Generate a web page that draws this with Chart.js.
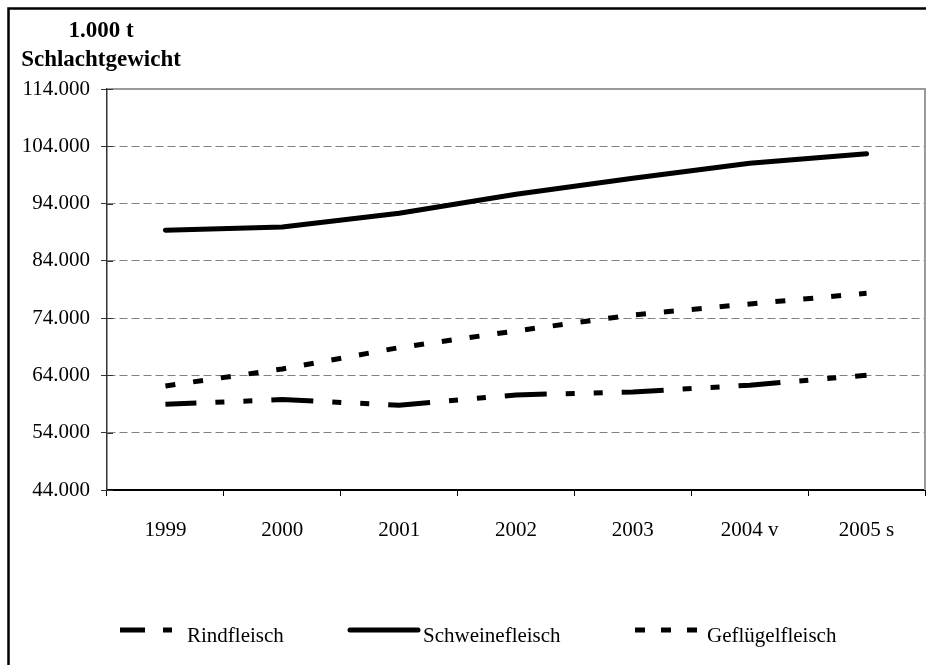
<!DOCTYPE html>
<html>
<head>
<meta charset="utf-8">
<script src="https://cdn.jsdelivr.net/npm/chart.js@4.4.1/dist/chart.umd.min.js"></script>
<style>
  html, body { margin: 0; padding: 0; background: #ffffff; }
  #wrap { width: 926px; height: 665px; }
</style>
</head>
<body>
<div id="wrap"><canvas id="c" width="926" height="665"></canvas></div>
<script>
// Meat production (slaughter weight, in 1,000 t)
const years = ['1999', '2000', '2001', '2002', '2003', '2004 v', '2005 s'];
const rindfleisch      = [58970, 59780, 58800, 60600, 61120, 62290, 64030];
const schweinefleisch  = [89340, 89920, 92310, 95620, 98420, 101030, 102710];
const gefluegelfleisch = [62170, 65130, 68860, 71770, 74560, 76480, 78340];
const yTickValues = [44000, 54000, 64000, 74000, 84000, 94000, 104000, 114000];
const unitLines = ['1.000 t', 'Schlachtgewicht'];
const seriesNames = ['Rindfleisch', 'Schweinefleisch', 'Geflügelfleisch'];

const SERIF = '"Liberation Serif", "Times New Roman", serif';

function formatThousands(v) {
  return Math.round(v).toString().replace(/\B(?=(\d{3})+(?!\d))/g, '.');
}

// White page with the outer frame (left and top edges)
const framePlugin = {
  id: 'frame',
  beforeDraw(chart) {
    const ctx = chart.ctx;
    ctx.save();
    ctx.fillStyle = '#ffffff';
    ctx.fillRect(0, 0, chart.width, chart.height);
    ctx.strokeStyle = '#000000';
    ctx.lineWidth = 2.5;
    ctx.beginPath();
    ctx.moveTo(8.5, chart.height + 5);
    ctx.lineTo(8.5, 8.5);
    ctx.lineTo(chart.width + 5, 8.5);
    ctx.stroke();
    ctx.restore();
  },
  afterDraw(chart) {
    const ctx = chart.ctx;
    const a = chart.chartArea;
    const yScale = chart.scales.y;
    ctx.save();
    // plot area border, top and right
    ctx.strokeStyle = '#9a9a9a';
    ctx.lineWidth = 2;
    ctx.beginPath();
    ctx.moveTo(a.left, a.top);
    ctx.lineTo(a.right, a.top);
    ctx.lineTo(a.right, a.bottom);
    ctx.stroke();
    // y tick marks cross the axis: inner half
    ctx.strokeStyle = '#333333';
    ctx.lineWidth = 1;
    yScale.ticks.forEach(t => {
      const y = Math.round(yScale.getPixelForValue(t.value)) + 0.5;
      ctx.beginPath();
      ctx.moveTo(a.left, y);
      ctx.lineTo(a.left + 6, y);
      ctx.stroke();
    });
    // unit title above the value axis
    ctx.fillStyle = '#000000';
    ctx.font = 'bold 23px ' + SERIF;
    ctx.textAlign = 'center';
    ctx.textBaseline = 'alphabetic';
    ctx.fillText(unitLines[0], 101, 37);
    ctx.fillText(unitLines[1], 101, 66);
    ctx.restore();
  }
};

// Legend row at the foot of the chart
const legendPlugin = {
  id: 'footLegend',
  afterDraw(chart) {
    const ctx = chart.ctx;
    const items = [
      { ds: 0, x1: 120, x2: 172, dash: [25, 18, 9, 40], text: 187 },
      { ds: 1, x1: 350, x2: 418, dash: [], text: 423 },
      { ds: 2, x1: 635, x2: 697, dash: [10, 16], text: 707 }
    ];
    const ly = 630;
    ctx.save();
    items.forEach(it => {
      const ds = chart.data.datasets[it.ds];
      ctx.strokeStyle = ds.borderColor;
      ctx.lineWidth = ds.borderWidth;
      ctx.lineCap = it.dash.length ? 'butt' : 'round';
      ctx.setLineDash(it.dash);
      ctx.beginPath();
      ctx.moveTo(it.x1, ly);
      ctx.lineTo(it.x2, ly);
      ctx.stroke();
      ctx.setLineDash([]);
      ctx.fillStyle = '#000000';
      ctx.font = '21px ' + SERIF;
      ctx.textAlign = 'left';
      ctx.textBaseline = 'alphabetic';
      ctx.fillText(ds.label, it.text, 642);
    });
    ctx.restore();
  }
};

const tickFont = { family: SERIF, size: 21 };

new Chart(document.getElementById('c'), {
  type: 'line',
  data: {
    labels: years,
    datasets: [
      {
        label: seriesNames[0],
        data: rindfleisch,
        borderColor: '#000000',
        borderWidth: 5,
        borderDash: [42, 19, 9, 19, 9, 19],
        borderDashOffset: 11,
        borderCapStyle: 'butt',
        pointRadius: 0,
        tension: 0,
        fill: false
      },
      {
        label: seriesNames[1],
        data: schweinefleisch,
        borderColor: '#000000',
        borderWidth: 5,
        borderCapStyle: 'round',
        borderJoinStyle: 'round',
        pointRadius: 0,
        tension: 0,
        fill: false
      },
      {
        label: seriesNames[2],
        data: gefluegelfleisch,
        borderColor: '#000000',
        borderWidth: 5,
        borderDash: [10, 18],
        borderCapStyle: 'butt',
        pointRadius: 0,
        tension: 0,
        fill: false
      }
    ]
  },
  options: {
    responsive: false,
    animation: false,
    devicePixelRatio: 1,
    layout: { padding: { left: 7, top: 89, right: 1, bottom: 115 } },
    plugins: {
      legend: { display: false },
      tooltip: { enabled: false },
      title: { display: false }
    },
    scales: {
      x: {
        type: 'category',
        offset: true,
        grid: {
          offset: true,
          drawOnChartArea: false,
          drawTicks: true,
          tickLength: 6,
          color: '#000000',
          tickColor: '#000000',
          lineWidth: 1
        },
        border: { display: true, color: '#000000', width: 2 },
        ticks: {
          font: tickFont,
          color: '#000000',
          padding: 22,
          maxRotation: 0,
          autoSkip: false
        },
        afterFit(scale) { scale.height = 60; }
      },
      y: {
        min: yTickValues[0],
        max: yTickValues[yTickValues.length - 1],
        afterBuildTicks(scale) {
          scale.ticks = yTickValues.map(v => ({ value: v }));
        },
        grid: {
          color(ctx) {
            if (!ctx.tick) return '#808080';
            const v = ctx.tick.value;
            return (v === yTickValues[0] || v === yTickValues[yTickValues.length - 1])
              ? 'rgba(0,0,0,0)' : '#808080';
          },
          lineWidth: 1,
          drawTicks: true,
          tickLength: 6,
          tickColor: '#333333'
        },
        border: { display: true, color: '#333333', width: 1.5, dash: [8, 4] },
        ticks: {
          font: tickFont,
          color: '#000000',
          padding: 11,
          callback: v => formatThousands(v)
        },
        afterFit(scale) { scale.width = 100; }
      }
    }
  },
  plugins: [framePlugin, legendPlugin]
});
</script>
</body>
</html>
